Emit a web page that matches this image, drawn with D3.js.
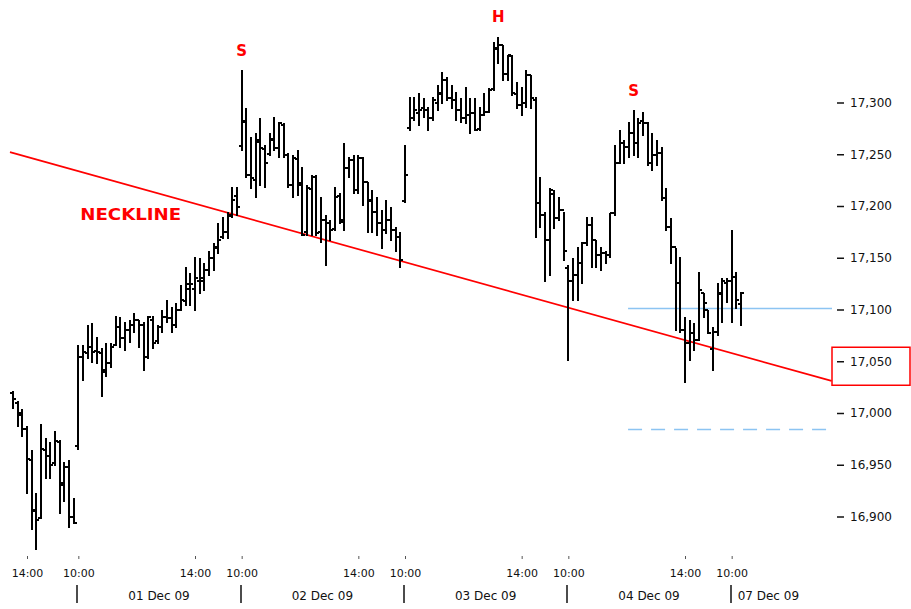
<!DOCTYPE html>
<html><head><meta charset="utf-8">
<script src="https://cdn.jsdelivr.net/npm/d3@7"></script>
<style>body{margin:0;background:#fff}svg{display:block}</style>
</head><body><svg id="c" width="911" height="609"></svg>
<script>
// ---- OHLC data (10-minute bars, 30 Nov - 07 Dec 2009) ----
const opens = [17019,17010,16998,16985,16955,16905,16899,16964,16958,16952,16972,16930,16948,16900,
16968,17054,17058,17064,17060,17058,17040,17048,17066,17083,17072,17080,17085,17090,17085,17054,17090,17070,17083,17093,17092,17085,17100,17108,17120,17120,17128,17128,17138,17150,17160,17170,17175,17190,17210,
17258,17282,17230,17225,17262,17255,17250,17265,17256,17278,17249,17220,17245,17222,17175,17216,17228,17175,17186,17184,17178,17210,17185,17237,17244,17215,17246,17223,17205,17194,17184,17177,17186,17177,17170,
17205,17275,17285,17290,17295,17293,17285,17300,17308,17322,17304,17302,17293,17285,17288,17290,17274,17288,17291,17313,17352,17356,17328,17345,17308,17298,17300,17327,17302,17203,17191,17167,17212,17188,17196,
17140,17128,17133,17145,17164,17182,17167,17153,17155,17153,17193,17242,17261,17257,17271,17261,17282,17280,17242,17249,17251,17208,17180,17160,17126,17080,17068,17077,17071,17116,17100,17062,17078,17115,17126,
17128,17131,17105];
const highs = [17021,17012,17004,16987,16964,16923,16989,16976,16972,16983,16974,16953,16955,16918,
17066,17066,17085,17087,17073,17063,17068,17068,17094,17093,17088,17090,17097,17090,17088,17094,17094,17085,17100,17109,17102,17106,17124,17141,17135,17151,17150,17145,17157,17164,17184,17189,17194,17218,17218,
17331,17295,17267,17271,17285,17259,17271,17286,17281,17280,17251,17249,17254,17238,17220,17230,17230,17209,17191,17186,17218,17213,17261,17247,17249,17249,17247,17223,17215,17209,17196,17206,17199,17180,17175,
17259,17305,17305,17309,17304,17296,17305,17317,17329,17325,17317,17310,17304,17315,17304,17304,17296,17309,17314,17358,17363,17356,17346,17346,17320,17315,17331,17327,17305,17228,17194,17217,17215,17209,17194,
17143,17150,17160,17165,17189,17189,17167,17160,17157,17193,17259,17273,17264,17281,17293,17285,17291,17281,17271,17264,17257,17217,17188,17159,17151,17093,17090,17087,17136,17116,17100,17083,17126,17130,17130,
17177,17136,17117];
const lows = [17005,16987,16978,16923,16888,16869,16899,16937,16937,16950,16903,16915,16890,16894,
16965,17032,17053,17049,17048,17016,17036,17044,17066,17064,17061,17069,17078,17064,17042,17053,17063,17068,17078,17088,17078,17083,17100,17104,17104,17100,17116,17119,17133,17138,17155,17169,17169,17189,17191,
17254,17228,17217,17209,17220,17218,17249,17254,17247,17247,17218,17209,17211,17172,17172,17172,17172,17165,17143,17167,17177,17184,17177,17228,17213,17213,17201,17175,17175,17172,17159,17174,17167,17157,17141,
17204,17273,17283,17278,17286,17273,17283,17293,17300,17302,17295,17283,17281,17280,17271,17273,17273,17288,17291,17312,17338,17322,17322,17307,17295,17288,17296,17295,17170,17180,17128,17133,17179,17186,17148,
17051,17109,17109,17126,17162,17141,17141,17138,17145,17151,17191,17242,17242,17247,17249,17247,17269,17240,17235,17240,17206,17177,17145,17080,17078,17030,17051,17061,17071,17093,17077,17042,17075,17088,17107,
17088,17101,17085];
const closes = [17014,17000,16985,16956,16906,16897,16965,16958,16950,16973,16932,16948,16900,16894,
17054,17059,17064,17059,17059,17042,17048,17064,17083,17072,17080,17085,17090,17085,17054,17093,17068,17083,17093,17092,17085,17100,17109,17125,17125,17130,17130,17138,17150,17159,17167,17175,17191,17206,17199,
17281,17230,17227,17264,17256,17242,17264,17256,17280,17249,17220,17246,17220,17172,17217,17228,17174,17186,17184,17177,17209,17186,17237,17244,17215,17246,17223,17206,17194,17184,17177,17186,17177,17170,17148,
17230,17285,17293,17293,17293,17285,17302,17309,17322,17304,17302,17293,17285,17288,17290,17273,17288,17291,17312,17353,17356,17328,17346,17309,17298,17300,17327,17304,17203,17191,17167,17215,17188,17196,17157,
17128,17133,17145,17164,17182,17167,17153,17155,17153,17193,17242,17261,17257,17271,17261,17280,17280,17242,17249,17251,17208,17180,17160,17126,17080,17068,17077,17071,17119,17106,17077,17078,17116,17128,17128,
17131,17109,17116];

// axis content
const yTicks = [16900,16950,17000,17050,17100,17150,17200,17250,17300];
const timeTickBars = [3,14,39,49,74,84,109,119,144,154];
const timeTickLabels = ["14:00","10:00","14:00","10:00","14:00","10:00","14:00","10:00","14:00","10:00"];
const dayStartBars = [14,49,84,119,154];
const dayLabels = ["01 Dec 09","02 Dec 09","03 Dec 09","04 Dec 09","07 Dec 09"];

// annotations (bar index, price)
const necklineIdx = [-0.65, 175.4];
const necklineVal = [17252, 17031];
const patternLabels = ["S","H","S"];
const patternIdx = [49, 104, 133];
const patternVal = [17345, 17378, 17306];
const necklineLabelIdx = 14.4;
const necklineLabelVal = 17186;
const targetIdx = 131.8;
const targetSolid = 17101;
const targetDashed = 16984;
const boxedTick = 17050;

// ---- drawing ----
const svg = d3.select('#c');
const plotRight = 832;
const x = d3.scaleLinear().domain([0,156]).range([13,741]);
const y = d3.scaleLinear().domain([16900,17300]).range([516.5,102.5]);
const data = opens.map((o,i)=>({i,o,h:highs[i],l:lows[i],c:closes[i]}));
const FONT = 'DejaVu Sans, Verdana, sans-serif';

// neckline
svg.append('line')
  .attr('x1',x(necklineIdx[0])).attr('y1',y(necklineVal[0]))
  .attr('x2',x(necklineIdx[1])).attr('y2',y(necklineVal[1]))
  .attr('stroke','#ff0000').attr('stroke-width',1.7);

// target lines
svg.append('line').attr('x1',x(targetIdx)).attr('x2',plotRight)
  .attr('y1',y(targetSolid)).attr('y2',y(targetSolid))
  .attr('stroke','#8cc4f2').attr('stroke-width',1.5);
svg.append('line').attr('x1',x(targetIdx)).attr('x2',plotRight)
  .attr('y1',y(targetDashed)).attr('y2',y(targetDashed))
  .attr('stroke','#8cc4f2').attr('stroke-width',1.5).attr('stroke-dasharray','14,9');

// bars
const g = svg.append('g').attr('stroke','#000').attr('shape-rendering','crispEdges');
g.selectAll('.hl').data(data).join('line')
  .attr('x1',d=>x(d.i)).attr('x2',d=>x(d.i))
  .attr('y1',d=>y(d.h)).attr('y2',d=>y(d.l)+1).attr('stroke-width',2);
g.selectAll('.op').data(data).join('line')
  .attr('x1',d=>x(d.i)-3).attr('x2',d=>x(d.i))
  .attr('y1',d=>y(d.o)).attr('y2',d=>y(d.o)).attr('stroke-width',2);
g.selectAll('.cl').data(data).join('line')
  .attr('x1',d=>x(d.i)).attr('x2',d=>x(d.i)+3)
  .attr('y1',d=>y(d.c)).attr('y2',d=>y(d.c)).attr('stroke-width',2);

// y axis
const ya = svg.append('g').attr('transform','translate(837,0)')
  .call(d3.axisRight(y).tickValues(yTicks).tickSize(7).tickPadding(6).tickFormat(d3.format(',')));
ya.select('.domain').remove();
ya.selectAll('text').attr('font-family',FONT).attr('font-size',12).attr('fill','#111');
ya.selectAll('line').attr('stroke','#111').attr('stroke-width',1.5);

// boxed label
svg.append('rect').attr('x',plotRight).attr('y',y(boxedTick)-14).attr('width',910-plotRight).attr('height',38)
  .attr('fill','none').attr('stroke','#ff0000').attr('stroke-width',1.5);

// x axis time ticks
const xa = svg.append('g').attr('transform','translate(0,556)')
  .call(d3.axisBottom(x).tickValues(timeTickBars).tickSize(3).tickPadding(10)
    .tickFormat((d,k)=>timeTickLabels[k]));
xa.select('.domain').remove();
xa.selectAll('text').attr('font-family',FONT).attr('font-size',11).attr('fill','#111');
xa.selectAll('line').attr('stroke','#555');

// day separators and labels
svg.selectAll('.sep').data(dayStartBars).join('line')
  .attr('x1',d=>Math.round(x(d))-1).attr('x2',d=>Math.round(x(d))-1)
  .attr('y1',585).attr('y2',603).attr('stroke','#111').attr('stroke-width',1.5);
svg.selectAll('.day').data(dayLabels).join('text')
  .attr('x',(d,k)=> k<dayStartBars.length-1 ? (x(dayStartBars[k])+x(dayStartBars[k+1]))/2 - 1 : x(dayStartBars[k])+6)
  .attr('y',600)
  .attr('text-anchor',(d,k)=> k<dayStartBars.length-1 ? 'middle' : 'start')
  .attr('font-family',FONT).attr('font-size',12).attr('fill','#111')
  .text(d=>d);

// pattern labels
svg.selectAll('.pl').data(patternLabels).join('text')
  .attr('x',(d,k)=>x(patternIdx[k])).attr('y',(d,k)=>y(patternVal[k]))
  .attr('text-anchor','middle').attr('fill','#ff0000')
  .attr('font-family',FONT).attr('font-weight','bold').attr('font-size',15)
  .text(d=>d);
svg.append('text').attr('x',x(necklineLabelIdx)).attr('y',y(necklineLabelVal))
  .attr('text-anchor','start').attr('fill','#ff0000')
  .attr('font-family',FONT).attr('font-weight','bold').attr('font-size',15)
  .attr('textLength',101).attr('lengthAdjust','spacingAndGlyphs')
  .text('NECKLINE');
</script></body></html>
